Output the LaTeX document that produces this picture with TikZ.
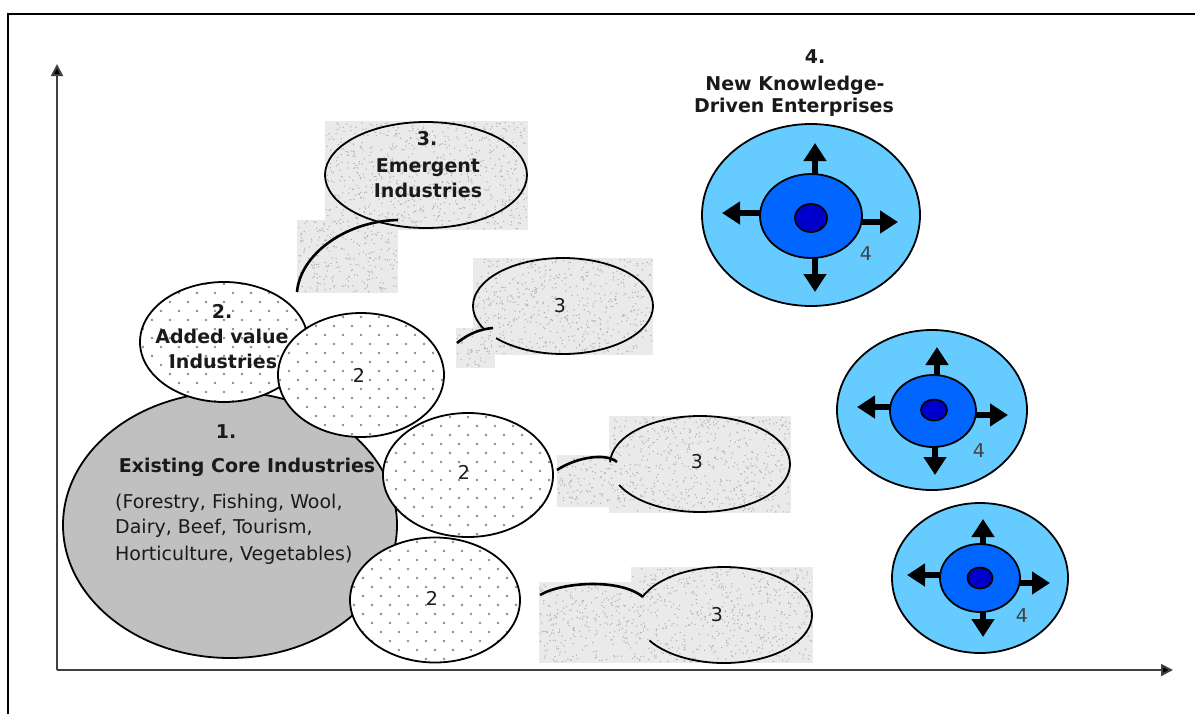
\documentclass[tikz,border=0pt]{standalone}
\usepackage{fontspec}
\setmainfont{DejaVu Sans}
\usetikzlibrary{arrows.meta,shapes.geometric,calc}
\definecolor{lightb}{HTML}{66CCFF}
\definecolor{midb}{HTML}{0066FF}
\definecolor{darkb}{HTML}{0000CC}
\definecolor{coreg}{HTML}{C0C0C0}
\definecolor{speckbg}{HTML}{EAEAEA}
\definecolor{speckdk}{HTML}{B0B0B0}
\definecolor{txt}{HTML}{1A1A1A}
\definecolor{dotc}{HTML}{8C8C8C}
\definecolor{axisc}{HTML}{404040}
\newcommand\myspeckbox[5]{%
  \node[speckrect, minimum width={(#4-#2)*1pt}, minimum height={(#5-#3)*1pt}, anchor=north west] (#1) at (#2,#3) {};
  \pgfmathtruncatemacro\nspk{((#4-#2)/5)*((#5-#3)/6)}%
  \foreach \k in {1,...,\nspk}{\fill[speckdk] ({#2+1+rnd*(#4-#2-2)},{#3+1+rnd*(#5-#3-2)}) circle[radius=0.75];}%
}
\begin{document}
\begin{tikzpicture}[x=1pt,y=-1pt,
  ell/.style={ellipse, draw=black, line width=1.8pt, inner sep=0pt, outer sep=0pt},
  greyell/.style={ell, fill=coreg},
  dotell/.style={ell, fill=white, path picture={
     \foreach \j in {0,...,15}{\foreach \i in {0,...,11}{
       \fill[dotc] ([shift={({\i*18-99+9*mod(\j,2)},{\j*9-67})}]path picture bounding box.center) circle[radius=1.3];}}}},
  speckrect/.style={rectangle, fill=speckbg, draw=none, inner sep=0pt, outer sep=0pt},
  bubline/.style={draw=black, line width=1.8pt},
  tail/.style={draw=black, line width=2.6pt},
  bl1/.style={ell, fill=lightb},
  bl2/.style={ell, fill=midb},
  bl3/.style={ell, fill=darkb},
  barrow/.style={draw=black, line width=5.5pt, -{Triangle[width=22pt,length=18pt]}},
  lbl/.style={font=\fontsize{19}{25}\selectfont\bfseries, text=txt, anchor=base, inner sep=0pt},
  num/.style={font=\fontsize{19}{25}\selectfont, text=txt, anchor=base, inner sep=0pt},
  axis/.style={draw=axisc, line width=2pt, -{Triangle[width=12pt,length=12pt,fill=black]}}
]
\useasboundingbox (0,0) rectangle (1195,713);
\pgfmathsetseed{7}
% frame
\coordinate (fbl) at (8,720);
\coordinate (ftl) at (8,14);
\coordinate (ftr) at (1200,14);
\draw[line width=2.5pt] (fbl) -- (ftl) -- (ftr);
% axes
\coordinate (O) at (57,670);
\coordinate (ytip) at (57,64);
\coordinate (xtip) at (1173,670);
\draw[axis] (O) -- (ytip);
\draw[axis] (O) -- (xtip);

% ---- emergent industries (speckled bubbles)
\myspeckbox{r3a}{325}{121}{528}{230}
\myspeckbox{r3at}{297}{220}{398}{293}
\myspeckbox{r3b}{473}{258}{653}{355}
\myspeckbox{r3bt}{456}{328}{495}{368}
\myspeckbox{r3c}{609}{416}{791}{513}
\myspeckbox{r3ct}{557}{455}{617}{507}
\myspeckbox{r3d}{631}{567}{813}{663}
\myspeckbox{r3dt}{539}{582}{643}{663}

\node[ell, fill=none, minimum width=202pt, minimum height=106pt] (e3a) at (426,175) {};
\draw[bubline] ([shift={(152:90 and 48)}]563,306) coordinate (e3bs) arc[start angle=152,end angle=498,x radius=90,y radius=48];
\draw[bubline] ([shift={(182:90 and 48)}]700,464) coordinate (e3cs) arc[start angle=182,end angle=514,x radius=90,y radius=48];
\draw[bubline] ([shift={(202:88 and 48)}]724,615) coordinate (e3ds) arc[start angle=202,end angle=508,x radius=88,y radius=48];
\coordinate (e3b) at (563,306);
\coordinate (e3c) at (700,464);
\coordinate (e3d) at (724,615);

\coordinate (ta0) at (297,292); \coordinate (ta1) at (398,220);
\coordinate (tb0) at (457,343); \coordinate (tb1) at (493,328);
\coordinate (tc0) at (557,470); \coordinate (tc1) at (617,462);
\coordinate (td0) at (540,595); \coordinate (td1) at (643,597);
\draw[tail] (ta0) .. controls (300,255) and (345,221) .. (ta1);
\draw[tail] (tb0) .. controls (468,334) and (480,329) .. (tb1);
\draw[tail] (tc0) .. controls (575,458) and (605,452) .. (tc1);
\draw[tail] (td0) .. controls (562,582) and (620,578) .. (td1);

\node[lbl] (t3n) at (427,145) {3.};
\node[lbl] (t3a) at (428,172) {Emergent};
\node[lbl] (t3b) at (428,197) {Industries};
\node[num] (n3b) at (560,312) {3};
\node[num] (n3c) at (697,468) {3};
\node[num] (n3d) at (717,621) {3};

% ---- core and added value
\node[greyell, minimum width=334pt, minimum height=266pt] (core) at (230,525) {};
\node[dotell, minimum width=168pt, minimum height=120pt] (add) at (224,342) {};
\node[dotell, minimum width=166pt, minimum height=124pt] (d2a) at (361,375) {};
\node[dotell, minimum width=170pt, minimum height=124pt] (d2b) at (468,475) {};
\node[dotell, minimum width=170pt, minimum height=125pt] (d2c) at (435,600) {};

\node[lbl] (t1n) at (226,438) {1.};
\node[lbl] (t1) at (247,472) {Existing Core Industries};
\node[num, anchor=base west] (t1a) at (115,508) {(Forestry, Fishing, Wool,};
\node[num, anchor=base west] (t1b) at (115,533) {Dairy, Beef, Tourism,};
\node[num, anchor=base west] (t1c) at (115,560) {Horticulture, Vegetables)};

\node[lbl] (t2n) at (222,318) {2.};
\node[lbl] (t2a) at (222,343) {Added value};
\node[lbl] (t2b) at (223,368) {Industries};
\node[num] (n2a) at (359,382) {2};
\node[num] (n2b) at (464,479) {2};
\node[num] (n2c) at (432,605) {2};

% ---- knowledge-driven enterprises
\node[lbl] (t4n) at (815,63) {4.};
\node[lbl] (t4a) at (795,90) {New Knowledge-};
\node[lbl] (t4b) at (794,112) {Driven Enterprises};

% 4a
\node[bl1, minimum width=218pt, minimum height=182pt] (o4a) at (811,215) {};
\coordinate (a4u0) at (815,216); \coordinate (a4u) at (815,143);
\coordinate (a4l0) at (811,213); \coordinate (a4l) at (722,213);
\coordinate (a4r0) at (811,222); \coordinate (a4r) at (898,222);
\coordinate (a4d0) at (815,216); \coordinate (a4d) at (815,292);
\draw[barrow, line width=6pt] (a4u0) -- (a4u);
\draw[barrow, line width=6pt] (a4l0) -- (a4l);
\draw[barrow, line width=6pt] (a4r0) -- (a4r);
\draw[barrow, line width=6pt] (a4d0) -- (a4d);
\node[bl2, minimum width=102pt, minimum height=84pt] (m4a) at (811,216) {};
\node[bl3, minimum width=32pt, minimum height=28pt] (i4a) at (811,218) {};
\node[num, text=black!75] (n4a) at (866,260) {4};

% 4b
\node[bl1, minimum width=190pt, minimum height=160pt] (o4b) at (932,410) {};
\coordinate (b4u0) at (937,411); \coordinate (b4u) at (937,347);
\coordinate (b4l0) at (933,407); \coordinate (b4l) at (857,407);
\coordinate (b4r0) at (933,415); \coordinate (b4r) at (1008,415);
\coordinate (b4d0) at (935,411); \coordinate (b4d) at (935,475);
\draw[barrow] (b4u0) -- (b4u);
\draw[barrow] (b4l0) -- (b4l);
\draw[barrow] (b4r0) -- (b4r);
\draw[barrow] (b4d0) -- (b4d);
\node[bl2, minimum width=86pt, minimum height=72pt] (m4b) at (933,411) {};
\node[bl3, minimum width=26pt, minimum height=21pt] (i4b) at (934,410) {};
\node[num, text=black!75] (n4b) at (979,457) {4};

% 4c
\node[bl1, minimum width=176pt, minimum height=150pt] (o4c) at (980,578) {};
\coordinate (c4u0) at (983,578); \coordinate (c4u) at (983,519);
\coordinate (c4l0) at (980,575); \coordinate (c4l) at (907,575);
\coordinate (c4r0) at (980,583); \coordinate (c4r) at (1050,583);
\coordinate (c4d0) at (983,578); \coordinate (c4d) at (983,637);
\draw[barrow] (c4u0) -- (c4u);
\draw[barrow] (c4l0) -- (c4l);
\draw[barrow] (c4r0) -- (c4r);
\draw[barrow] (c4d0) -- (c4d);
\node[bl2, minimum width=80pt, minimum height=68pt] (m4c) at (980,578) {};
\node[bl3, minimum width=25pt, minimum height=21pt] (i4c) at (980,578) {};
\node[num, text=black!75] (n4c) at (1022,622) {4};
\end{tikzpicture}
\end{document}
